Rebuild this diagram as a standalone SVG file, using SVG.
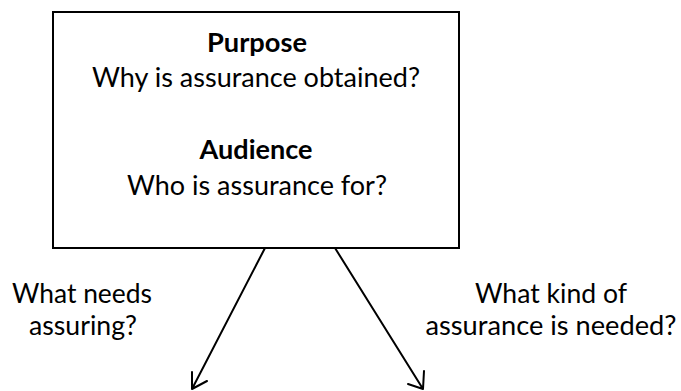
<svg xmlns="http://www.w3.org/2000/svg" width="681" height="391" viewBox="0 0 681 391">
<style>
.t{font-family:Lato,"Open Sans",sans-serif;font-size:27px;fill:#000;text-anchor:middle}
.b{font-weight:bold}
.box{fill:#fff;stroke:#000;stroke-width:2}
.conn{fill:none;stroke:#000;stroke-width:2;stroke-linecap:round;stroke-linejoin:round}
</style>
<rect width="681" height="391" fill="#fff"/>
<g id="context">
<rect class="box" x="53" y="12" width="406" height="236"/>
<text class="t b" x="257" y="52" textLength="100" lengthAdjust="spacingAndGlyphs">Purpose</text>
<text class="t" x="256" y="87" textLength="328" lengthAdjust="spacingAndGlyphs">Why is assurance obtained?</text>
<text class="t b" x="256" y="159" textLength="113" lengthAdjust="spacingAndGlyphs">Audience</text>
<text class="t" x="257" y="195" textLength="260" lengthAdjust="spacingAndGlyphs">Who is assurance for?</text>
</g>
<g id="label-left">
<text class="t" x="82" y="303" textLength="140" lengthAdjust="spacingAndGlyphs">What needs</text>
<text class="t" x="83" y="335" textLength="108" lengthAdjust="spacingAndGlyphs">assuring?</text>
</g>
<g id="label-right">
<text class="t" x="551" y="303" textLength="152" lengthAdjust="spacingAndGlyphs">What kind of</text>
<text class="t" x="551" y="335" textLength="251" lengthAdjust="spacingAndGlyphs">assurance is needed?</text>
</g>
<g id="connectors">
<path class="conn" d="M265,248 L192,389 M192,372 L192,389 L207,381"/>
<path class="conn" d="M335,248 L423,389 M424,371 L423,389 L408,384"/>
</g>
</svg>
